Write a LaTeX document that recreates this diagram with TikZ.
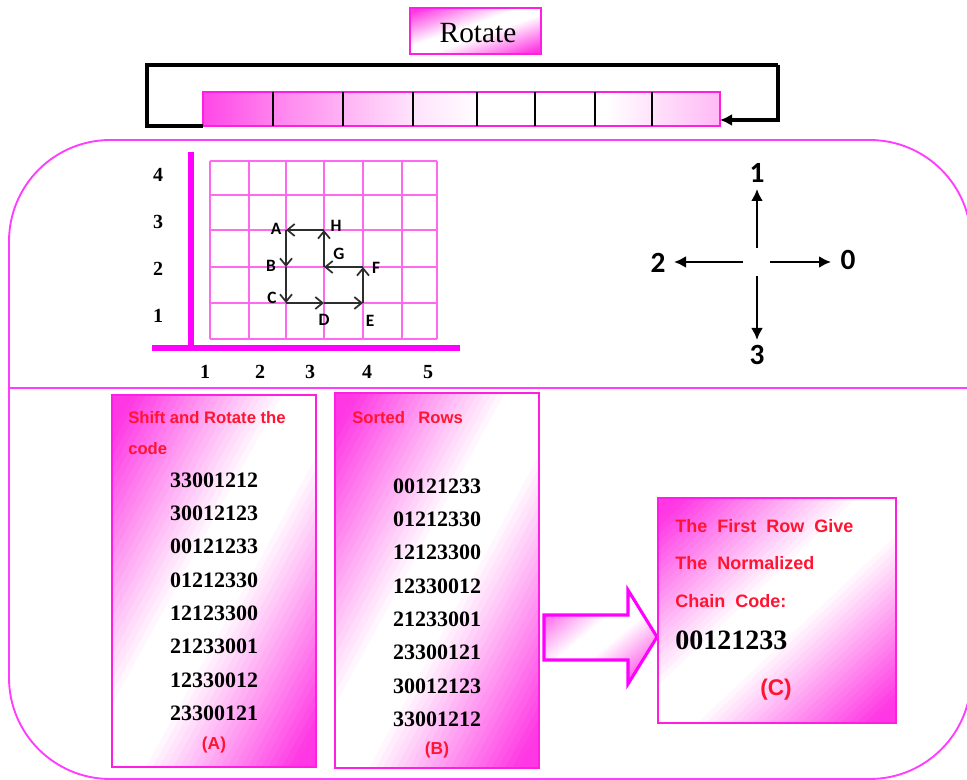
\documentclass[tikz,border=0pt]{standalone}
\usepackage{fontspec}
\setmainfont{Liberation Serif}
\setsansfont{Liberation Sans}
\newfontfamily\calib{Carlito}
\newfontfamily\widesans[WordSpace=2]{Liberation Sans}
\usetikzlibrary{arrows.meta}

\definecolor{mag}{RGB}{255,0,255}
\definecolor{linemag}{RGB}{255,60,255}
\definecolor{boxmag}{RGB}{255,30,225}
\definecolor{shmag}{RGB}{255,55,228}
\definecolor{gridpink}{RGB}{255,105,240}
\definecolor{redtxt}{RGB}{255,20,50}
\definecolor{chaingray}{RGB}{45,45,45}

\pgfdeclarehorizontalshading{stripshade}{100bp}{color(0bp)=(shmag); color(25bp)=(shmag!92!white); color(32bp)=(shmag!62!white); color(45bp)=(shmag!15!white); color(52bp)=(white); color(64bp)=(white); color(75bp)=(shmag!35!white); color(100bp)=(shmag!35!white)}

% diagonal gradient: magenta in top-left and bottom-right corners, white across the middle
\newcommand\boxprof{max(0,min(1,(abs(\s-1)-0.15)/0.75))}
\newcommand\gradfill[5]{%
  \foreach \i in {0,...,59}{%
    \pgfmathsetmacro\sa{\i/30}%
    \pgfmathsetmacro\s{\sa+1/60}%
    \pgfmathsetmacro\mm{100*(#5)}%
    \fill[shmag!\mm!white] ({#1+\sa*(#3-#1)},#2) -- ({#1+3*(#3-#1)},#2) -- (#1,{#2+3*(#4-#2)}) -- (#1,{#2+\sa*(#4-#2)}) -- cycle;
  }}

\tikzset{
  pbox/.style={draw=boxmag, line width=1.3pt, inner sep=0pt, outer sep=0pt},
  numtxt/.style={font=\fontsize{16.5}{18}\selectfont\bfseries, inner sep=0pt},
  redlbl/.style={font=\sffamily\bfseries\fontsize{12.5}{14}\selectfont, text=redtxt, inner sep=0pt, anchor=west},
  redlblc/.style={font=\widesans\bfseries\fontsize{13.5}{15}\selectfont, text=redtxt, inner sep=0pt, anchor=west},
  gridln/.style={draw=gridpink, line width=1pt},
  axisbar/.style={draw=mag, line width=4.5pt},
  axlbl/.style={font=\fontsize{15}{17}\selectfont\bfseries, inner sep=0pt},
  chainln/.style={draw=chaingray, line width=1.6pt, -{Straight Barb[length=5.5pt,width=9pt,line width=1.3pt]}},
  ptlbl/.style={font=\calib\bfseries\fontsize{13}{15}\selectfont, inner sep=0pt},
  compassln/.style={draw=black, line width=2.2pt, -{Latex[length=9pt,width=9pt]}},
  cmplbl/.style={font=\calib\bfseries\fontsize{22}{24}\selectfont, inner sep=0pt},
  bracketln/.style={draw=black, line width=2.3pt},
  divln/.style={draw=black, line width=1.3pt},
}

\begin{document}
\begin{tikzpicture}[x=0.75pt,y=-0.75pt]
\useasboundingbox (0,0) rectangle (967,780);
\clip (0,0) rectangle (967,780);

% big frame
\draw[linemag, line width=1.4pt, rounded corners=76pt] (9,140) rectangle (971,779);
\draw[linemag, line width=1.4pt] (9,388) -- (971,388);

% Rotate box
\begin{scope}
  \clip (410,8) rectangle (541,54);
  \gradfill{410}{8}{541}{54}{\boxprof}
\end{scope}
\node[pbox, minimum width=98.25pt, minimum height=34.5pt] (rot) at (475.5,31) {};
\node[font=\fontsize{22}{24}\selectfont, inner sep=0pt] (rottxt) at (478,33) {Rotate};

% strip
\node[draw=boxmag, line width=1.2pt, shading=stripshade, shading angle=0, inner sep=0pt, outer sep=0pt,
      minimum width=387.75pt, minimum height=25.5pt] (strip) at (461.5,109) {};
\foreach \x in {273,343,413,477,535,595,652}
  \draw[divln] (\x,92) -- (\x,126);
\coordinate (tl) at (147,65);
\coordinate (tr) at (778,65);
\draw[bracketln] (strip.south west) -| (tl) -- (tr);
\draw[bracketln, -{Latex[length=9pt,width=9pt]}] (tr) |- (strip.east |- 0,120);

% grid
\foreach \x in {210,249,286,324,363,402,437}
  \draw[gridln] (\x,161) -- (\x,339);
\foreach \y in {161,195,230,267,303,339}
  \draw[gridln] (210,\y) -- (437,\y);
\draw[axisbar] (191,152) -- (191,350);
\draw[axisbar] (152,348) -- (460,348);

\foreach \t/\y in {4/175,3/222,2/269,1/316}
  \node[axlbl] (yl\t) at (158,\y) {\t};
\foreach \t/\x in {1/205,2/260,3/310,4/367,5/428}
  \node[axlbl] (xl\t) at (\x,372) {\t};

% chain
\coordinate (pA) at (286,230);
\coordinate (pB) at (286,267);
\coordinate (pC) at (286,303);
\coordinate (pD) at (324,303);
\coordinate (pE) at (363,303);
\coordinate (pF) at (363,267);
\coordinate (pG) at (324,267);
\coordinate (pH) at (324,230);
\draw[chainln] (pA) -- (pB);
\draw[chainln] (pB) -- (pC);
\draw[chainln] (pC) -- (pD);
\draw[chainln] (pD) -- (pE);
\draw[chainln] (pE) -- (pF);
\draw[chainln] (pF) -- (pG);
\draw[chainln] (pG) -- (pH);
\draw[chainln] (pH) -- (pA);
\node[ptlbl] (lA) at (276,229) {A};
\node[ptlbl] (lH) at (336,226) {H};
\node[ptlbl] (lG) at (339,254) {G};
\node[ptlbl] (lB) at (271,266) {B};
\node[ptlbl] (lF) at (376,268) {F};
\node[ptlbl] (lC) at (272,298) {C};
\node[ptlbl] (lD) at (324,320) {D};
\node[ptlbl] (lE) at (370,321) {E};

% compass
\coordinate (cu) at (757,248);
\coordinate (cd) at (757,276);
\coordinate (cl) at (743,262);
\coordinate (cr) at (770,262);
\node[cmplbl] (d1) at (757,173) {1};
\node[cmplbl] (d3) at (757,355) {3};
\node[cmplbl] (d2) at (658,263) {2};
\node[cmplbl] (d0) at (848,260) {0};
\draw[compassln] (cu) -- (757,189);
\draw[compassln] (cd) -- (757,340);
\draw[compassln] (cl) -- (674,262);
\draw[compassln] (cr) -- (831,262);

% box A
\begin{scope}
  \clip (112,395) rectangle (316,767);
  \gradfill{112}{395}{316}{767}{\boxprof}
\end{scope}
\node[pbox, minimum width=153pt, minimum height=279pt] (boxA) at (214,581) {};
\node[redlbl] (tA1) at (128,418) {Shift and Rotate the};
\node[redlbl] (tA2) at (128,449) {code};
\foreach \t [count=\i] in {33001212,30012123,00121233,01212330,12123300,21233001,12330012,23300121}
  \node[numtxt] (a\i) at (214,{480+33.3*(\i-1)}) {\t};
\node[font=\sffamily\bfseries\fontsize{13}{15}\selectfont, text=redtxt, inner sep=0pt] (labA) at (214,745) {(A)};

% box B
\begin{scope}
  \clip (335,393) rectangle (539,768);
  \gradfill{335}{393}{539}{768}{\boxprof}
\end{scope}
\node[pbox, minimum width=153pt, minimum height=281.25pt] (boxB) at (437,580.5) {};
\node[redlbl] (tB1) at (352,418) {Sorted\hspace{10pt}Rows};
\foreach \t [count=\i] in {00121233,01212330,12123300,12330012,21233001,23300121,30012123,33001212}
  \node[numtxt] (b\i) at (437,{486+33.3*(\i-1)}) {\t};
\node[font=\sffamily\bfseries\fontsize{13}{15}\selectfont, text=redtxt, inner sep=0pt] (labB) at (437,750) {(B)};

% block arrow
\begin{scope}
  \clip (544,615) -- (628,615) -- (628,590) -- (657,637) -- (628,684) -- (628,660) -- (544,660) -- cycle;
  \gradfill{544}{590}{657}{684}{\boxprof}
\end{scope}
\draw[draw=mag, line width=2.3pt, line join=miter]
  (544,615) -- (628,615) -- (628,590) -- (657,637) -- (628,684) -- (628,660) -- (544,660) -- cycle;

% box C
\begin{scope}
  \clip (658,498) rectangle (896,723);
  \gradfill{658}{498}{896}{723}{\boxprof}
\end{scope}
\node[pbox, minimum width=178.5pt, minimum height=168.75pt] (boxC) at (777,610.5) {};
\node[redlblc] (tC1) at (675,526) {The First Row Give};
\node[redlblc] (tC2) at (675,563) {The Normalized};
\node[redlblc] (tC3) at (675,601) {Chain Code:};
\node[font=\fontsize{21}{24}\selectfont\bfseries, inner sep=0pt, anchor=west] (cres) at (675,640) {00121233};
\node[font=\sffamily\bfseries\fontsize{17}{19}\selectfont, text=redtxt, inner sep=0pt] (labC) at (776,690) {(C)};
\end{tikzpicture}
\end{document}
